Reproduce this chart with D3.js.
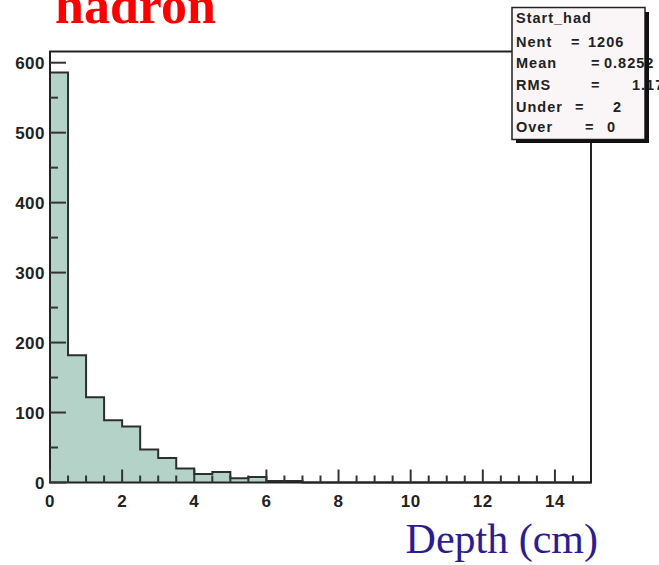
<!DOCTYPE html>
<html>
<head>
  <style>
    body { margin: 0; background: #fff; }
    text { font-family: "Liberation Sans", Arial, sans-serif; }
  </style>
</head>
<body>
  <svg id="chart" width="659" height="565"></svg>
  <script src="https://d3js.org/d3.v7.min.js"></script>
  <script>
    // histogram Start_had, 30 bins of 0.5 cm from 0 to 15
    const binWidth = 0.5
    const counts = [586, 182, 122, 89, 80, 47, 35, 20, 12, 15, 6, 8, 2, 2, 0,
                    0, 0, 0, 0, 0, 0, 0, 0, 0, 0, 0, 0, 0, 0, 0]
    const xTicks = [0, 2, 4, 6, 8, 10, 12, 14]
    const yTicks = [0, 100, 200, 300, 400, 500, 600]
    const statLabels = ['Nent', 'Mean', 'RMS', 'Under', 'Over']
    const statValues = ['1206', '0.8252', '1.17', '2', '0']

    const svg = d3.select('#chart')
    const x = d3.scaleLinear().domain([0, 15]).range([50, 591])
    const y = d3.scaleLinear().domain([0, 616]).range([482.5, 51.5])

    // filled step shape
    const pts = [[0, 0]]
    counts.forEach((c, i) => {
      pts.push([i * binWidth, c])
      pts.push([(i + 1) * binWidth, c])
    })
    pts.push([15, 0])
    const line = d3.line().x(d => x(d[0])).y(d => y(d[1]))
    svg.append('path').attr('d', line(pts) + 'Z')
      .attr('fill', '#b4d2c7').attr('stroke', 'none')
    svg.append('path').attr('d', line(pts))
      .attr('fill', 'none').attr('stroke', '#2e2e2e').attr('stroke-width', 2)

    // frame
    svg.append('rect').attr('x', x(0)).attr('y', y(616))
      .attr('width', x(15) - x(0)).attr('height', y(0) - y(616))
      .attr('fill', 'none').attr('stroke', '#222').attr('stroke-width', 2)

    // y ticks (inside)
    const yMinor = d3.range(50, 616, 100)
    svg.append('g').selectAll('line').data(yTicks).join('line')
      .attr('x1', x(0)).attr('x2', x(0) + 16)
      .attr('y1', d => y(d)).attr('y2', d => y(d))
      .attr('stroke', '#333').attr('stroke-width', 2)
    svg.append('g').selectAll('line').data(yMinor).join('line')
      .attr('x1', x(0)).attr('x2', x(0) + 8)
      .attr('y1', d => y(d)).attr('y2', d => y(d))
      .attr('stroke', '#333').attr('stroke-width', 2)
    svg.append('g').selectAll('text').data(yTicks).join('text')
      .attr('x', 45).attr('y', d => y(d) + 6)
      .attr('text-anchor', 'end').attr('font-size', 17).attr('font-weight', 'bold')
      .attr('letter-spacing', 0.5).attr('fill', '#222')
      .text(d => d)

    // x ticks (inside)
    const xMinor = d3.range(0.5, 15, 0.5).filter(v => v % 2 !== 0)
    svg.append('g').selectAll('line').data(xTicks).join('line')
      .attr('x1', d => x(d)).attr('x2', d => x(d))
      .attr('y1', y(0)).attr('y2', y(0) - 13)
      .attr('stroke', '#333').attr('stroke-width', 2)
    svg.append('g').selectAll('line').data(xMinor).join('line')
      .attr('x1', d => x(d)).attr('x2', d => x(d))
      .attr('y1', y(0)).attr('y2', y(0) - 7)
      .attr('stroke', '#333').attr('stroke-width', 2)
    svg.append('g').selectAll('text').data(xTicks).join('text')
      .attr('x', d => x(d)).attr('y', 507)
      .attr('text-anchor', 'middle').attr('font-size', 17).attr('font-weight', 'bold')
      .attr('letter-spacing', 0.5).attr('fill', '#222')
      .text(d => d)

    // axis title
    svg.append('text').attr('x', 598).attr('y', 553)
      .attr('text-anchor', 'end')
      .style('font-family', '"Liberation Serif", "Times New Roman", serif')
      .attr('font-size', 42).attr('fill', '#2b1d8f')
      .text('Depth (cm)')

    // title, partly off the top
    svg.append('text').attr('x', 55).attr('y', 23)
      .style('font-family', '"Liberation Serif", "Times New Roman", serif')
      .attr('font-size', 52).attr('font-weight', 'bold').attr('fill', '#ff0000')
      .text('hadron')

    // stats box
    const box = svg.append('g')
    box.append('rect').attr('x', 512).attr('y', 7.5).attr('width', 133).attr('height', 132)
      .attr('fill', '#faf6f8').attr('stroke', '#222').attr('stroke-width', 1.5)
    const rowY = [46.5, 68, 90, 111.5, 131.5]
    const eqX = [571, 591, 591, 575, 585]
    const valX = [588, 604, 632, 613, 607]
    const st = { 'font-size': 14.5, 'font-weight': 'bold', 'letter-spacing': 1, fill: '#222' }
    const addText = (xx, yy, t) => {
      const el = box.append('text').attr('x', xx).attr('y', yy).text(t)
      Object.entries(st).forEach(([k, v]) => el.attr(k, v))
    }
    addText(516, 23, 'Start_had')
    statLabels.forEach((l, i) => {
      addText(516, rowY[i], l)
      addText(eqX[i], rowY[i], '=')
      addText(valX[i], rowY[i], statValues[i])
    })
    // shadow drawn over the text like the original
    box.append('rect').attr('x', 645).attr('y', 12).attr('width', 4).attr('height', 131).attr('fill', '#111')
    box.append('rect').attr('x', 516).attr('y', 139.5).attr('width', 133).attr('height', 3.5).attr('fill', '#111')
  </script>
</body>
</html>
